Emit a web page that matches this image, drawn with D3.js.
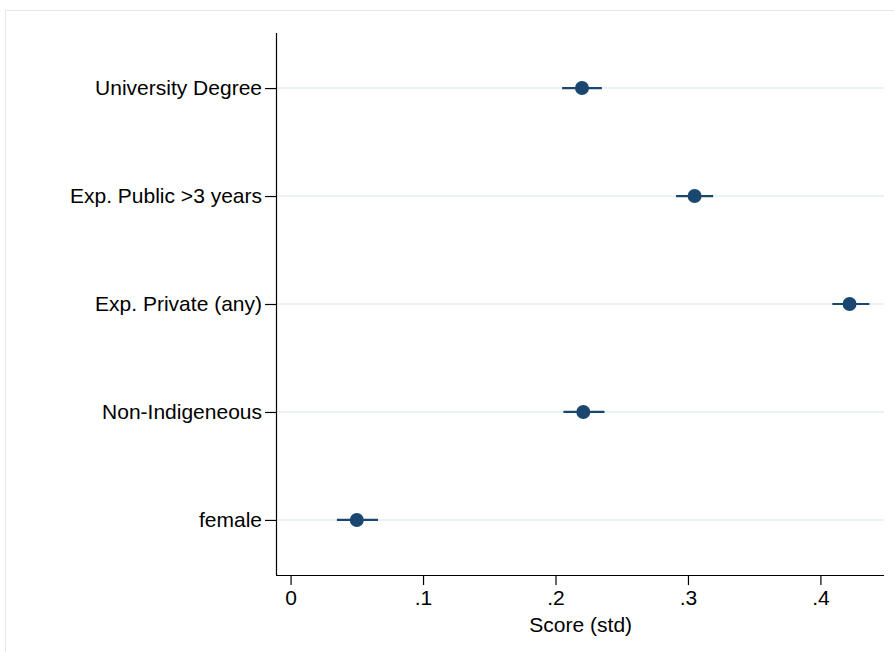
<!DOCTYPE html>
<html><head><meta charset="utf-8">
<script src="https://cdn.jsdelivr.net/npm/d3@7"></script>
<style>body{margin:0;background:#fff}svg{display:block}text{font-family:"Liberation Sans",Arial,Helvetica,sans-serif;fill:#000}</style>
</head><body>
<script>
const categories = ["University Degree","Exp. Public >3 years","Exp. Private (any)","Non-Indigeneous","female"];
const estimates = [0.220, 0.305, 0.422, 0.221, 0.050];
const ciLow = [0.205, 0.291, 0.409, 0.206, 0.035];
const ciHigh = [0.235, 0.319, 0.437, 0.237, 0.066];
const xTicks = [0, 0.1, 0.2, 0.3, 0.4];
const xTickLabels = ["0", ".1", ".2", ".3", ".4"];
const xTitle = "Score (std)";

const W = 894, H = 652;
const svg = d3.select("body").append("svg").attr("width", W).attr("height", H);
svg.append("rect").attr("x",5.5).attr("y",10.5).attr("width",W).attr("height",H)
  .attr("fill","#fff").attr("stroke","#e8e8e8");

const mLeft = 276, mRight = 884, mTop = 33, mBottom = 575;
const x = d3.scaleLinear().domain([-0.011, 0.448]).range([mLeft, mRight]);
const y = d3.scalePoint().domain(categories).range([mTop, mBottom]).padding(0.51);

// gridlines
svg.append("g").selectAll("line").data(categories).join("line")
  .attr("x1", mLeft).attr("x2", mRight)
  .attr("y1", d => y(d)).attr("y2", d => y(d))
  .attr("stroke", "#eaf2f3").attr("stroke-width", 2);

// axes
const xAxis = d3.axisBottom(x).tickValues(xTicks).tickFormat((d,i)=>xTickLabels[i]).tickSize(10).tickSizeOuter(0).tickPadding(5);
const gx = svg.append("g").attr("transform", `translate(0,${mBottom})`).call(xAxis);
gx.select(".domain").attr("d", `M${mLeft},0.5H${mRight}`).attr("stroke","#000").attr("stroke-width",1.2);
gx.selectAll(".tick line").attr("stroke","#000").attr("stroke-width",1.2);
gx.selectAll(".tick text").attr("font-size",21).attr("font-family","Liberation Sans, Arial, sans-serif");

const yAxis = d3.axisLeft(y).tickSize(11).tickSizeOuter(0).tickPadding(3);
const gy = svg.append("g").attr("transform", `translate(${mLeft},0)`).call(yAxis);
gy.select(".domain").attr("d", `M0.5,${mTop}V${mBottom}`).attr("stroke","#000").attr("stroke-width",1.2);
gy.selectAll(".tick line").attr("stroke","#000").attr("stroke-width",1.2);
gy.selectAll(".tick text").attr("font-size",21).attr("font-family","Liberation Sans, Arial, sans-serif");

svg.append("text").attr("x", (x(0.2)+x(0.3))/2 - 41).attr("y", 632)
  .attr("text-anchor","middle").attr("font-size",21).text(xTitle);

const color = "#1a476f";
const g = svg.append("g");
g.selectAll("line.ci").data(categories).join("line").attr("class","ci")
  .attr("x1",(d,i)=>x(ciLow[i])).attr("x2",(d,i)=>x(ciHigh[i]))
  .attr("y1",d=>y(d)).attr("y2",d=>y(d))
  .attr("stroke",color).attr("stroke-width",2.2);
g.selectAll("circle").data(categories).join("circle")
  .attr("cx",(d,i)=>x(estimates[i])).attr("cy",d=>y(d)).attr("r",7)
  .attr("fill",color);
</script>
</body></html>
